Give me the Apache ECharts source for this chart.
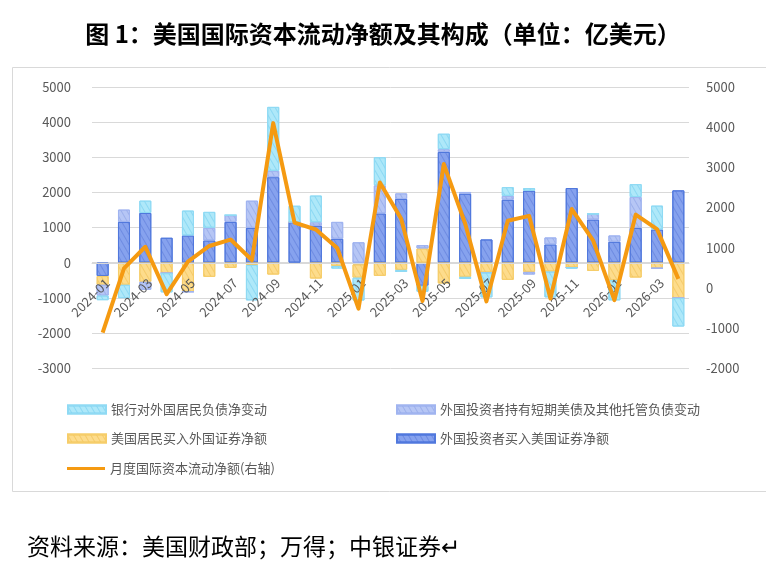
<!DOCTYPE html>
<html>
<head>
<meta charset="utf-8">
<title></title>
<style>
  html, body { margin: 0; padding: 0; background: #fff; }
  #chart { width: 766px; height: 574px; }
</style>
</head>
<body>
<div id="chart"></div>
<script src="https://cdn.jsdelivr.net/npm/echarts@6/dist/echarts.min.js"></script>
<script>
// 月份
var months = ['2024-01','2024-02','2024-03','2024-04','2024-05','2024-06','2024-07','2024-08','2024-09','2024-10','2024-11','2024-12',
  '2025-01','2025-02','2025-03','2025-04','2025-05','2025-06','2025-07','2025-08','2025-09','2025-10','2025-11','2025-12',
  '2026-01','2026-02','2026-03','2026-04'];

// 外国投资者买入美国证券净额
var foreignBuyUS = [-380, 1160, 1415, 708, 774, 632, 1160, 990, 2434, 1150, 1050, 680,
  -50, 1400, 1811, -660, 3150, 1962, 660, 1790, 2047, 519, 2123, 1226,
  594, 990, 943, 2057];
// 美国居民买入外国证券净额
var usBuyForeign = [-250, -632, -547, -300, -830, -405, -150, -66, -340, 0, -453, -95,
  -380, -377, -207, 405, -594, -405, -283, -490, -264, -255, -140, -236,
  -500, -425, -160, -1010];
// 外国投资者持有短期美债及其他托管负债变动
var shortTerm = [-310, 350, -226, 0, 0, 360, 190, 774, 180, 0, 100, 480,
  580, 800, 160, 95, 80, 50, 0, 110, -75, 198, 0, 160,
  180, 877, 0, 0];
// 银行对外国居民负债净变动
var bankLiab = [-130, -380, 350, -547, 708, 453, 0, -1010, 1820, 470, 760, -75,
  -650, 800, -60, -170, 440, -60, -707, 250, 75, -735, -30, 0,
  -575, 368, 680, -810];
// 月度国际资本流动净额(右轴)
var netFlow = [-1120, 480, 1020, -160, 650, 1040, 1200, 690, 4100, 1620, 1450, 990,
  -520, 2620, 1720, -330, 3080, 1600, -340, 1670, 1790, -270, 1960, 1180,
  -310, 1820, 1460, 220];

var leftTicks = [-3000, 5000, 1000];
var rightTicks = [-2000, 5000, 1000];

var nameBank = '银行对外国居民负债净变动';
var nameShort = '外国投资者持有短期美债及其他托管负债变动';
var nameUS = '美国居民买入外国证券净额';
var nameForeign = '外国投资者买入美国证券净额';
var nameNet = '月度国际资本流动净额(右轴)';

var font = "'Noto Sans CJK SC', 'Microsoft YaHei', sans-serif";
var labelColor = '#595959';
var gridColor = '#d9d9d9';

function hatch(c) {
  return {
    symbol: 'rect',
    symbolSize: 1,
    color: c,
    dashArrayX: [1, 0],
    dashArrayY: [1, 4],
    rotation: Math.PI / 3
  };
}

function barSeries(name, data, fill, border, decalColor) {
  return {
    name: name,
    type: 'bar',
    stack: 'flow',
    barWidth: 12,
    data: data,
    itemStyle: {
      color: fill,
      borderColor: border,
      borderWidth: 1,
      decal: hatch(decalColor)
    }
  };
}

function legendAt(name, left, top, icon, h) {
  return {
    data: [{ name: name, icon: icon }],
    left: left,
    top: top,
    itemWidth: 38,
    itemHeight: h,
    itemGap: 4,
    selectedMode: false,
    textStyle: { fontFamily: font, fontSize: 13, color: labelColor }
  };
}

var option = {
  animation: false,
  backgroundColor: '#fff',
  title: {
    text: '图 1：美国国际资本流动净额及其构成（单位：亿美元）',
    left: 'center',
    top: 17,
    textStyle: { fontFamily: font, fontSize: 24, fontWeight: 'bold', color: '#000' }
  },
  graphic: [
    {
      type: 'rect',
      shape: { x: 12.5, y: 67.5, width: 760, height: 424 },
      style: { fill: 'none', stroke: gridColor, lineWidth: 1 },
      silent: true
    },
    {
      type: 'text',
      left: 27,
      top: 535,
      style: { text: '资料来源：美国财政部；万得；中银证券↵', font: 'normal 23px ' + font, fill: '#000' }
    }
  ],
  legend: [
    legendAt(nameBank, 62, 398, 'rect', 8),
    legendAt(nameShort, 391, 398, 'rect', 8),
    legendAt(nameUS, 62, 427, 'rect', 8),
    legendAt(nameForeign, 391, 427, 'rect', 8),
    legendAt(nameNet, 62, 457, 'rect', 3)
  ],
  grid: { left: 92, right: 77, top: 87, bottom: 206, containLabel: false },
  xAxis: {
    type: 'category',
    data: months,
    boundaryGap: true,
    offset: -105,
    z: 5,
    axisLine: { show: true, onZero: false, lineStyle: { color: gridColor } },
    axisTick: { show: false },
    axisLabel: {
      interval: 1,
      rotate: 45,
      margin: 13,
      verticalAlign: 'top',
      fontFamily: font,
      fontSize: 13,
      color: labelColor
    },
    splitLine: { show: false }
  },
  yAxis: [
    {
      type: 'value',
      min: leftTicks[0],
      max: leftTicks[1],
      interval: leftTicks[2],
      axisLine: { show: false },
      axisTick: { show: false },
      axisLabel: { margin: 21, fontFamily: font, fontSize: 13, color: labelColor, formatter: function (v) { return String(v); } },
      splitLine: { lineStyle: { color: gridColor } }
    },
    {
      type: 'value',
      min: rightTicks[0],
      max: rightTicks[1],
      interval: rightTicks[2],
      axisLine: { show: false },
      axisTick: { show: false },
      axisLabel: { margin: 17, fontFamily: font, fontSize: 13, color: labelColor, formatter: function (v) { return String(v); } },
      splitLine: { show: false }
    }
  ],
  series: [
    barSeries(nameForeign, foreignBuyUS, '#86a2ee', '#5078dd', 'rgba(60,90,200,0.32)'),
    barSeries(nameUS, usBuyForeign, '#fddc8c', '#f6cd6a', 'rgba(230,170,40,0.35)'),
    barSeries(nameShort, shortTerm, '#b6c6f5', '#a0b4f0', 'rgba(90,120,210,0.28)'),
    barSeries(nameBank, bankLiab, '#aee8f9', '#8fdaf4', 'rgba(60,180,230,0.3)'),
    {
      name: nameNet,
      type: 'line',
      yAxisIndex: 1,
      data: netFlow,
      symbol: 'none',
      z: 10,
      itemStyle: { color: '#f59a11' },
      lineStyle: { color: '#f59a11', width: 4, join: 'round' }
    }
  ]
};

var chart = echarts.init(document.getElementById('chart'));
chart.setOption(option);
</script>
</body>
</html>
